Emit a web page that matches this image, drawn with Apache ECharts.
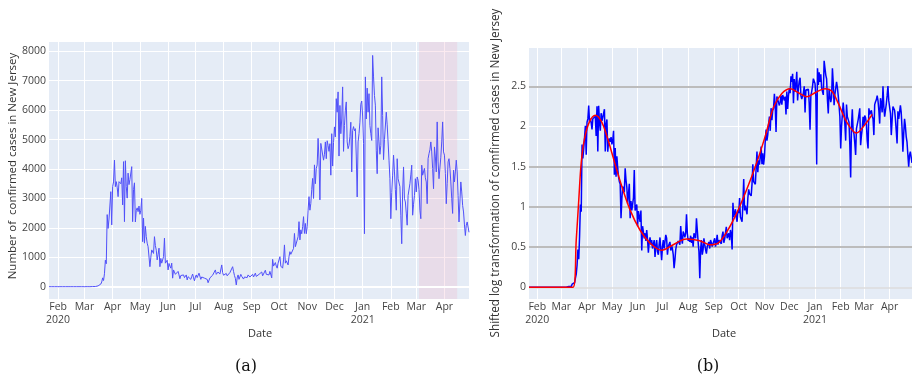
<!DOCTYPE html>
<html>
<head>
<meta charset="utf-8">
<script src="https://cdn.jsdelivr.net/npm/echarts@6/dist/echarts.min.js"></script>
<style>
  html, body { margin: 0; padding: 0; background: #ffffff; }
  #chart { width: 912px; height: 380px; }
</style>
</head>
<body>
<div id="chart"></div>
<script>
// Daily confirmed COVID-19 cases in New Jersey, one value per day from 2020-01-22 to 2021-04-28
const START_DATE = '2020-01-22';
const newCases = [
  0, 0, 0, 0, 0, 0, 0, 0, 0, 0,
  0, 0, 0, 0, 0, 0, 0, 0, 0, 0,
  0, 0, 0, 0, 0, 0, 0, 0, 0, 0,
  0, 0, 0, 0, 0, 0, 0, 0, 0, 0,
  0, 0, 1, 1, 2, 0, 5, 4, 5, 4,
  7, 6, 20, 29, 28, 30, 60, 90, 160, 300,
  210, 440, 900, 780, 2450, 1980, 2300, 2290, 3230, 2100,
  3400, 3560, 4300, 3400, 3570, 3380, 3060, 3570, 3580, 3500,
  3700, 2780, 4250, 2210, 4280, 3400, 3010, 3860, 3470, 3640,
  3600, 4080, 2210, 3300, 3530, 2200, 2600, 2680, 2550, 2740,
  2460, 2600, 3000, 1530, 2330, 1480, 2050, 1700, 1480, 1360,
  1310, 680, 1000, 1250, 1200, 1130, 1700, 1400, 1240, 910,
  1100, 1310, 680, 960, 800, 790, 1020, 1650, 800, 850,
  900, 570, 790, 700, 630, 800, 290, 570, 570, 420,
  480, 390, 520, 400, 270, 380, 430, 350, 400, 310,
  330, 400, 230, 340, 400, 280, 250, 350, 430, 300,
  200, 330, 400, 310, 300, 460, 420, 250, 330, 350,
  380, 290, 340, 310, 250, 135, 200, 300, 350, 330,
  390, 400, 350, 570, 420, 360, 500, 470, 430, 480,
  740, 480, 390, 420, 380, 450, 370, 430, 330, 480,
  500, 420, 680, 520, 380, 280, 60, 300, 400, 250,
  300, 420, 350, 300, 260, 330, 340, 380, 310, 400,
  370, 330, 350, 390, 420, 330, 380, 460, 350, 400,
  380, 420, 360, 450, 500, 370, 410, 430, 560, 420,
  450, 480, 400, 520, 470, 300, 930, 700, 690, 820,
  700, 630, 800, 760, 1020, 700, 680, 630, 910, 1420,
  800, 880, 910, 740, 1020, 1190, 1100, 1080, 1060, 1300,
  1810, 1360, 1400, 1300, 1700, 2210, 1590, 1930, 1800, 2040,
  2380, 1810, 2150, 1800, 2040, 2600, 3060, 2600, 2830, 3300,
  3680, 3000, 4140, 3500, 4020, 4140, 5040, 4300, 2950, 4870,
  4900, 4860, 4300, 4500, 4920, 4350, 4960, 4800, 4600, 4860,
  3790, 5200, 4100, 4900, 5430, 5090, 6390, 5930, 6620, 4440,
  6160, 5200, 5700, 6790, 4600, 5480, 6000, 6280, 4920, 4690,
  4800, 5100, 5590, 3900, 5310, 5440, 5300, 5370, 4440, 3050,
  4920, 5200, 5590, 6200, 6310, 5800, 4860, 1800, 7130, 5700,
  6750, 5930, 6560, 5480, 5200, 4970, 7860, 7130, 6500, 6170,
  4640, 3840, 5400, 4920, 4500, 4800, 7130, 5820, 4320, 5000,
  4960, 5930, 5500, 4920, 4300, 3670, 2310, 3200, 3790, 4470,
  3900, 3300, 2600, 4350, 3670, 3730, 3400, 2430, 1460, 3220,
  4070, 2990, 2880, 2500, 2090, 3100, 3160, 3500, 3800, 4130,
  2430, 2800, 3100, 3670, 3220, 3730, 3620, 3300, 2600, 2310,
  4130, 3790, 3850, 4020, 3700, 3560, 2820, 4350, 4520, 4650,
  4920, 4580, 4020, 3330, 4750, 4410, 3900, 5600, 4240, 3670,
  3730, 4400, 4920, 5600, 4580, 4470, 3850, 2820, 3500, 4240,
  4350, 4020, 3560, 3000, 2490, 3960, 3560, 3900, 4300, 3900,
  3100, 2200, 2880, 3560, 3220, 2760, 2540, 2100, 1740, 2090,
  2200, 2150, 1850
];

// Smoothed trend of the log-transformed series: [day index from START_DATE, value]
const trendDays   = [0, 53, 57, 60, 63, 67, 73, 80, 87, 94, 100, 110, 122, 134, 146, 160, 174, 190, 206, 218, 228, 238, 250, 262, 274, 285, 295, 305, 315, 325, 335, 345, 357, 365, 373, 383, 395, 405, 414];
const trendValues = [0, 0, 0.59, 1.08, 1.55, 1.85, 2.06, 2.14, 2.07, 1.88, 1.67, 1.32, 0.96, 0.71, 0.55, 0.46, 0.53, 0.60, 0.58, 0.53, 0.55, 0.68, 0.91, 1.20, 1.53, 1.88, 2.24, 2.41, 2.47, 2.42, 2.37, 2.42, 2.47, 2.44, 2.29, 2.06, 1.92, 2.02, 2.15];

// Highlighted window on the case counts (day indices)
const highlightStart = 407;
const highlightEnd = 449;

// Reference levels drawn across the transformed panel
const refLevels = [0, 0.5, 1, 1.5, 2, 2.5];

// Shifted log: log(x + c) - log(c)
const LOG_SHIFT = 500;
const shiftedLog = v => Math.log(v + LOG_SHIFT) - Math.log(LOG_SHIFT);

const MONTHS = ['Jan', 'Feb', 'Mar', 'Apr', 'May', 'Jun', 'Jul', 'Aug', 'Sep', 'Oct', 'Nov', 'Dec'];
const YEAR_MARKS = { '2020-02-01': '2020', '2021-01-01': '2021' };

const t0 = Date.parse(START_DATE + 'T00:00:00Z');
const dates = newCases.map((_, i) => new Date(t0 + i * 86400000).toISOString().slice(0, 10));

const FONT = '"Open Sans", "DejaVu Sans", sans-serif';
const TEXT = '#444444';
const PLOT_BG = '#E5ECF6';

const isMonthStart = (idx, val) => typeof val === 'string' && val.slice(8) === '01';
const monthLabel = v => {
  const m = MONTHS[parseInt(v.slice(5, 7), 10) - 1];
  return YEAR_MARKS[v] ? m + '\n' + YEAR_MARKS[v] : m;
};

function dateAxis(gridIndex) {
  return {
    type: 'category', gridIndex, data: dates, boundaryGap: false,
    axisLine: { show: false }, axisTick: { show: false },
    axisLabel: {
      interval: isMonthStart, formatter: monthLabel,
      color: TEXT, fontFamily: FONT, fontSize: 10.5, lineHeight: 12.5, margin: 2
    },
    splitLine: { show: true, interval: isMonthStart, lineStyle: { color: '#ffffff', width: 1 } }
  };
}

const refLineStyle = {
  0: { color: '#dcdcdc', width: 1.5 },
  0.5: { color: '#bcbcbc', width: 2 },
  1: { color: '#bcbcbc', width: 2 },
  1.5: { color: '#bcbcbc', width: 2 },
  2: { color: '#ffffff', width: 1 },
  2.5: { color: '#bcbcbc', width: 2 }
};

const chart = echarts.init(document.getElementById('chart'), null, { renderer: 'canvas' });

chart.setOption({
  animation: false,
  backgroundColor: '#ffffff',
  grid: [
    { left: 49, right: 443, top: 42, bottom: 81, show: true, backgroundColor: PLOT_BG, borderWidth: 0 },
    { left: 529, right: 0, top: 48, bottom: 81, show: true, backgroundColor: PLOT_BG, borderWidth: 0 }
  ],
  xAxis: [dateAxis(0), dateAxis(1)],
  yAxis: [
    {
      type: 'value', gridIndex: 0, min: -418, max: 8316,
      splitNumber: 8, minInterval: 1000, maxInterval: 1000,
      axisLine: { show: false }, axisTick: { show: false },
      axisLabel: {
        formatter: v => (Math.abs(v % 1000) < 1e-6 ? String(Math.round(v)) : ''),
        color: TEXT, fontFamily: FONT, fontSize: 10.5, margin: 3
      },
      splitLine: { show: true, showMinLine: false, showMaxLine: false, lineStyle: { color: '#ffffff', width: 1 } }
    },
    {
      type: 'value', gridIndex: 1, min: -0.145, max: 2.976,
      splitNumber: 6, minInterval: 0.5, maxInterval: 0.5,
      axisLine: { show: false }, axisTick: { show: false },
      axisLabel: {
        formatter: v => (Math.abs(v * 2 - Math.round(v * 2)) < 1e-6 ? String(Math.round(v * 2) / 2) : ''),
        color: TEXT, fontFamily: FONT, fontSize: 10.5, margin: 3
      },
      splitLine: { show: false }
    }
  ],
  series: [
    {
      name: 'highlight', type: 'line', xAxisIndex: 0, yAxisIndex: 0, data: [], z: 1, silent: true,
      markArea: {
        silent: true, z: 1,
        itemStyle: { color: 'rgba(240,180,200,0.28)' },
        data: [[{ xAxis: dates[highlightStart] }, { xAxis: dates[highlightEnd] }]]
      },
      markLine: {
        silent: true, z: 1, symbol: 'none', label: { show: false },
        lineStyle: { color: '#ffffff', width: 2, type: 'solid' },
        data: [{ yAxis: 0 }]
      }
    },
    {
      name: 'Confirmed cases', type: 'line', xAxisIndex: 0, yAxisIndex: 0,
      data: newCases, symbol: 'none', z: 3,
      lineStyle: { color: 'rgb(80,80,250)', width: 1 }
    },
    {
      name: 'levels', type: 'line', xAxisIndex: 1, yAxisIndex: 1, data: [], z: 1, silent: true,
      markLine: {
        silent: true, z: 1, symbol: 'none', label: { show: false },
        data: refLevels.map(y => ({ yAxis: y, lineStyle: Object.assign({ type: 'solid' }, refLineStyle[y]) }))
      }
    },
    {
      name: 'Shifted log cases', type: 'line', xAxisIndex: 1, yAxisIndex: 1,
      data: newCases.map(shiftedLog), symbol: 'none', z: 3,
      lineStyle: { color: '#0000ff', width: 1.5 }
    },
    {
      name: 'Trend', type: 'line', xAxisIndex: 1, yAxisIndex: 1,
      data: trendDays.map((d, i) => [dates[d], trendValues[i]]),
      symbol: 'none', smooth: 0.35, z: 4,
      lineStyle: { color: '#ff0000', width: 1.5 }
    }
  ],
  graphic: [
    { type: 'text', x: 13, y: 166, rotation: Math.PI / 2,
      style: { text: 'Number of  confirmed cases in New Jersey', align: 'center', verticalAlign: 'middle', fill: '#333', font: '11.5px ' + FONT } },
    { type: 'text', x: 260, y: 334,
      style: { text: 'Date', align: 'center', verticalAlign: 'middle', fill: '#333', font: '11px ' + FONT } },
    { type: 'text', x: 496, y: 173, rotation: Math.PI / 2,
      style: { text: 'Shifted log transformation of comfirmed cases in New Jersey', align: 'center', verticalAlign: 'middle', fill: '#333', font: '11.7px ' + FONT } },
    { type: 'text', x: 724, y: 334,
      style: { text: 'Date', align: 'center', verticalAlign: 'middle', fill: '#333', font: '11px ' + FONT } },
    { type: 'text', x: 246, y: 367,
      style: { text: '(a)', align: 'center', verticalAlign: 'middle', fill: '#111', font: '16px "DejaVu Serif", serif' } },
    { type: 'text', x: 708, y: 367,
      style: { text: '(b)', align: 'center', verticalAlign: 'middle', fill: '#111', font: '16px "DejaVu Serif", serif' } }
  ]
});
</script>
</body>
</html>
